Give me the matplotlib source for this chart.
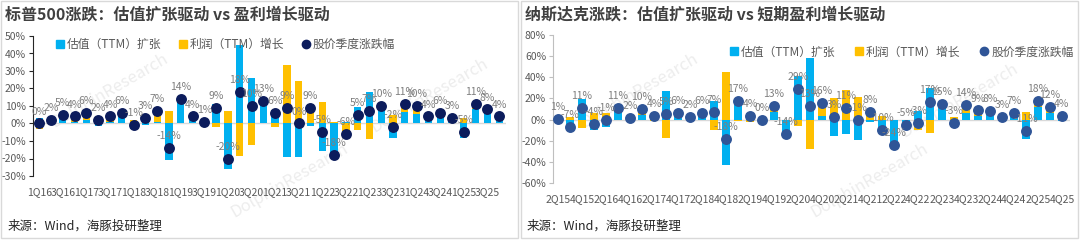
import matplotlib.pyplot as plt
import matplotlib
import numpy as np
from matplotlib.lines import Line2D
from matplotlib.patches import Rectangle

plt.rcParams['font.family'] = ['Noto Sans CJK SC', 'DejaVu Sans']
plt.rcParams['axes.unicode_minus'] = False

BLUE = '#00B0F0'
GOLD = '#FFC000'
NAVY = '#0C1C5C'
MIDBLUE = '#2F5597'
GREY = '#7F7F7F'

# ---- S&P 500, 1Q16 .. 4Q25 (%)
spx_q = [f'{q}Q{y}' for y in range(16, 26) for q in range(1, 5)]
spx_val = [3, 1, 3, 1, 2, -1.5, 1, 5, -3, -1,
           1, -21, 14, 3, 0.5, 11, -26, 45, 26, 13,
           7.5, -19, -19, -1.5, -15.5, -19, 1, 9.5, 18, 10,
           -8, 6.5, 5.5, 3, 5, 2, -8.5, 8.5, 7.5, 1.5]
spx_profit = [-3, 1, 2, 3, 4, 3.5, 3, 1, 2, 4,
              6, 7, 0.5, 1, 0.5, -2, 7, -18.5, -12.5, 0.5,
              -2, 33.5, 24, 11, 12.5, 1, -6, -3.8, -9, 0,
              5, 5.5, 4, 1, 1, 1, 3, 2.5, 0.5, 2.5]
spx_price = [0, 2, 5, 4, 6, 2, 4, 6, -1, 3,
             7, -14, 14, 4, 1, 9, -20, 18, 10, 13,
             6, 9, 0, 9, -5, -18, -6, 5, 7, 10,
             -2, 11, 10, 4, 6, 3, -5, 11, 8, 4]

# ---- Nasdaq, 2Q15 .. 4Q25 (%)
ndx_q = [f'{q}Q{y}' for y in range(15, 26) for q in range(1, 5)][1:]
ndx_val = [1.5, -9.5, 19, -10, -7, 11, 0.5, 4, 4, 27,
           3, 1, 5, 18, -43, 19, 6, 1, 7, -13,
           41, 58, 3, -16, -14, -19, -2, -12.5, -22, -2,
           8, 30, 14, -5, 6, 3, 6, 1.5, 5, -18,
           12, 6, -1.5]
ndx_profit = [-0.5, 2.5, -8, 6, 6.5, -0.5, 1.5, 5, -1, -17,
              3, 1.5, 1.5, -10, 45, -1.5, -2.5, -1, 4, -1.5,
              -6, -28, 12, 20, 28, 21, 9, 3, -2, -3,
              -10, -13, 1, 2, 7, 6, 2, 1, 1, 7,
              6, 6, 5]
ndx_price = [0.6, -7, 10.6, -4, -0.6, 10.6, 1.6, 9.6, 3.6, 5.4,
             6.3, 2.3, 6.3, 7.1, -18, 17.3, 3.6, 0, 12.6, -14,
             29, 12.7, 15.7, 2.6, 10.6, -0.6, 7.6, -10, -24, -5,
             -3, 16.6, 14.8, -3, 13.6, 8.6, 7.9, 2.6, 6.6, -11,
             17.6, 12, 3.8]

legend_labels = ['估值（TTM）扩张', '利润（TTM）增长', '股价季度涨跌幅']

fig = plt.figure(figsize=(10.8, 2.4), dpi=100)

# background layer: panel frames + faint watermarks, kept behind the charts
bg = fig.add_axes([0, 0, 1, 1], zorder=-1)
bg.set_xlim(0, 1080)
bg.set_ylim(240, 0)
bg.axis('off')
bg.add_patch(Rectangle((1, 1), 517, 237, fill=False, edgecolor='#D9D9D9', lw=1))
bg.add_patch(Rectangle((521, 1), 557, 237, fill=False, edgecolor='#D9D9D9', lw=1))
for xp, yp in [(110, 90), (430, 95), (290, 180), (640, 90), (960, 100), (870, 180)]:
    bg.text(xp, yp, 'DolphinResearch', rotation=30, fontsize=12,
            color='#EDEDED', ha='center', va='center')


def draw(ax, quarters, val, profit, price, dot_color, spine_color):
    x = np.arange(len(quarters))
    val = np.array(val, dtype=float)
    profit = np.array(profit, dtype=float)
    w = 0.62
    ax.bar(x, val, w, color=BLUE, zorder=2)
    bottom = np.where(profit >= 0, np.maximum(val, 0), np.minimum(val, 0))
    ax.bar(x, profit, w, bottom=bottom, color=GOLD, zorder=2)
    ax.scatter(x, price, s=62, color=dot_color, zorder=4, linewidths=0)
    for xi, p in zip(x, price):
        ax.annotate(f'{p:.0f}%', (xi, p), xytext=(0, 5), textcoords='offset points',
                    ha='center', va='bottom', fontsize=7.5, color=GREY, zorder=5)
    ax.axhline(0, color='#D9D9D9', lw=1, zorder=1)
    for s in ['top', 'right', 'bottom']:
        ax.spines[s].set_visible(False)
    ax.spines['left'].set_color(spine_color)
    ax.tick_params(axis='y', colors=spine_color, labelcolor='#595959', labelsize=7.5,
                   length=3, pad=2)
    ax.set_xticks(x[::2])
    ax.set_xticklabels(quarters[::2])
    ax.tick_params(axis='x', length=0, labelcolor='#595959', labelsize=7.5, pad=8)
    ax.yaxis.set_major_formatter(matplotlib.ticker.FuncFormatter(lambda v, _: f'{v:.0f}%'))
    ax.patch.set_alpha(0)
    handles = [Line2D([], [], ls='', marker='s', color=BLUE, markersize=5.5),
               Line2D([], [], ls='', marker='s', color=GOLD, markersize=5.5),
               Line2D([], [], ls='', marker='o', color=dot_color, markersize=6)]
    return handles


axL = fig.add_axes([33/1080, 1-176/240, (506-33)/1080, (176-36)/240])
h = draw(axL, spx_q, spx_val, spx_profit, spx_price, NAVY, '#262626')
axL.set_xlim(-0.53, 39.58)
axL.set_ylim(-30, 50)
axL.set_yticks(np.arange(-30, 51, 10))
axL.legend(h, legend_labels, loc='upper left', bbox_to_anchor=(0.025, 1.06), ncol=3,
           frameon=False, fontsize=8.5, handletextpad=0.2, columnspacing=1.4,
           handlelength=0.8, labelcolor='#595959')

axR = fig.add_axes([553/1080, 1-183/240, (1070-553)/1080, (183-35)/240])
h = draw(axR, ndx_q, ndx_val, ndx_profit, ndx_price, MIDBLUE, '#BFBFBF')
axR.set_xlim(-0.42, 42.67)
axR.set_ylim(-60, 80)
axR.set_yticks(np.arange(-60, 81, 20))
axR.legend(h, legend_labels, loc='upper left', bbox_to_anchor=(0.32, 1.0), ncol=3,
           frameon=False, fontsize=8.5, handletextpad=0.2, columnspacing=1.6,
           handlelength=0.8, labelcolor='#595959')

fig.text(5/1080, 1-15/240, '标普500涨跌：估值扩张驱动 vs 盈利增长驱动', fontsize=11.5,
         fontweight='bold', color='#404040', va='center')
fig.text(525/1080, 1-15/240, '纳斯达克涨跌：估值扩张驱动 vs 短期盈利增长驱动', fontsize=11.5,
         fontweight='bold', color='#404040', va='center')
fig.text(8/1080, 1-226/240, '来源：Wind，海豚投研整理', fontsize=9, color='#262626', va='center')
fig.text(527/1080, 1-226/240, '来源：Wind，海豚投研整理', fontsize=9, color='#262626', va='center')

fig.savefig('out.png', dpi=100)
